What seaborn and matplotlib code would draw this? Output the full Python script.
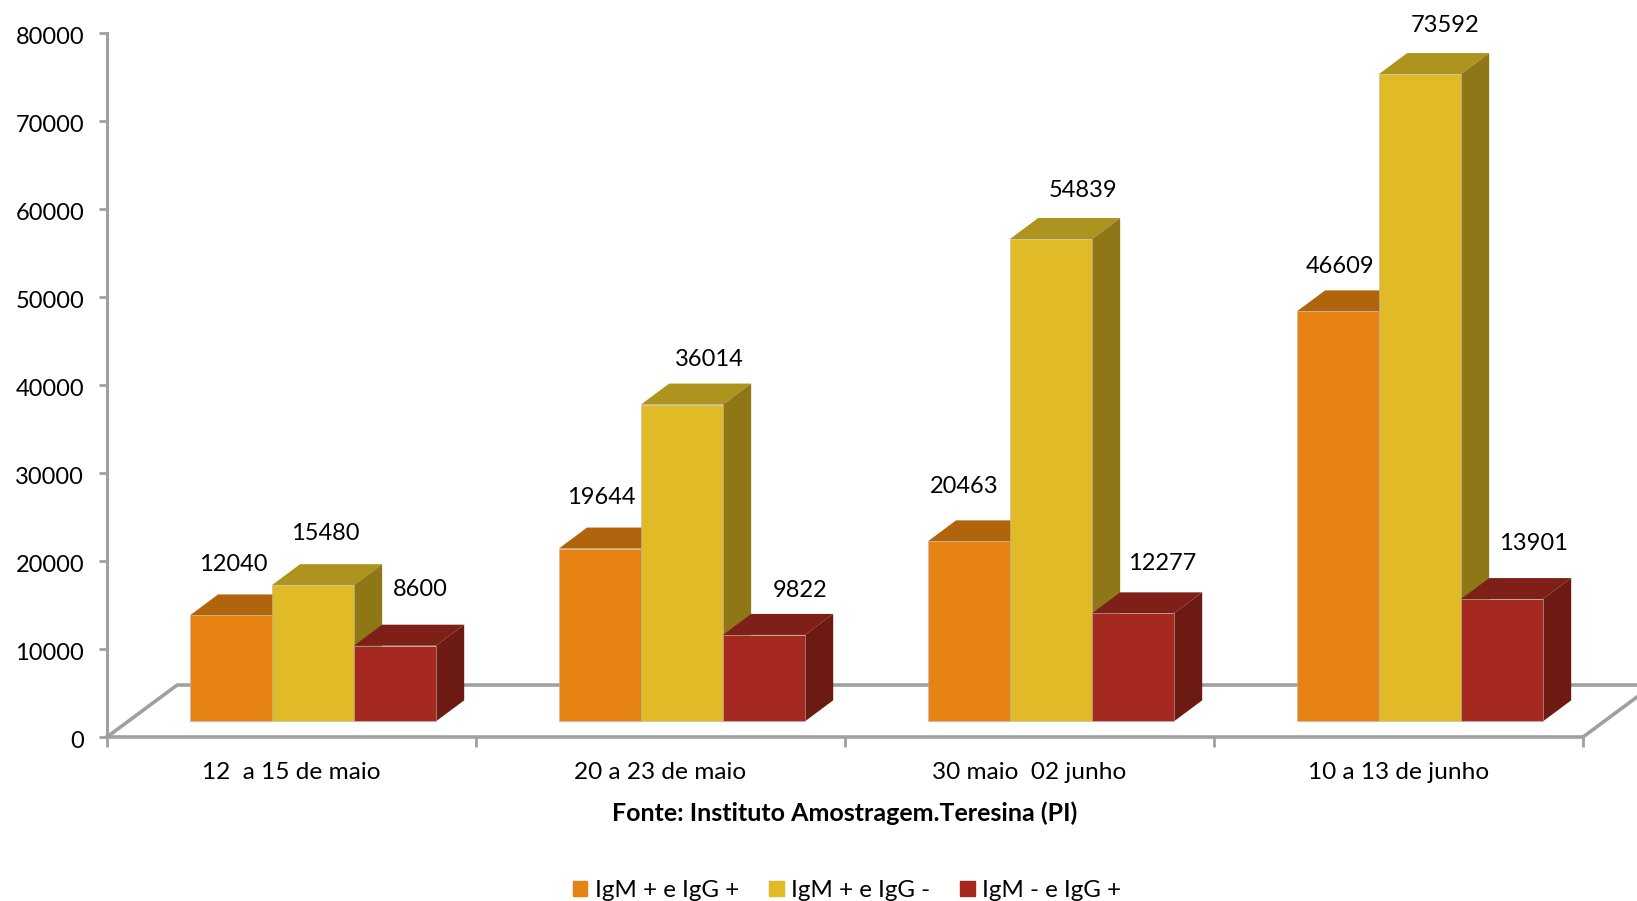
import matplotlib
matplotlib.use('Agg')
import matplotlib.pyplot as plt
import matplotlib.patches as mpatches
from matplotlib.transforms import ScaledTranslation
import pandas as pd
import seaborn as sns

periods = ['12  a 15 de maio', '20 a 23 de maio', '30 maio  02 junho', '10 a 13 de junho']
series_names = ['IgM + e IgG +', 'IgM + e IgG -', 'IgM - e IgG +']
igm_igg_pos = [12040, 19644, 20463, 46609]
igm_only = [15480, 36014, 54839, 73592]
igg_only = [8600, 9822, 12277, 13901]
y_ticks = [0, 10000, 20000, 30000, 40000, 50000, 60000, 70000, 80000]
source = 'Fonte: Instituto Amostragem.Teresina (PI)'

# colours: front, top, side
front = ['#E68312', '#E1BB27', '#A5291E']
top = ['#B0640C', '#AE931F', '#7F2018']
side = ['#9A5A0E', '#8F7616', '#6C1A12']
grey = '#A0A0A0'

# manual label nudges in pixels (from the bar centre / back top edge)
label_dx = [[2, 1, -5, 2], [12, 27, 32, 25], [25, 36, 29, 32]]
label_dy = [[30, 30, 34, 24], [31, 24, 28, 28], [35, 23, 29, 35]]

df = pd.DataFrame({'periodo': periods, series_names[0]: igm_igg_pos,
                   series_names[1]: igm_only, series_names[2]: igg_only})
df = df.melt(id_vars='periodo', var_name='serie', value_name='valor')

sns.set_style('white')
plt.rcParams['font.family'] = ['Lato', 'DejaVu Sans']

W, H = 1637, 901
fig = plt.figure(figsize=(W / 100, H / 100), dpi=100)
ax = fig.add_axes([107 / W, 1 - 737 / H, 1476 / W, 703.6 / H])

base = 1780    # bars float above the front edge of the floor
depth_x = 0.0765
depth_y = 2390
shift = 0.058

sns.barplot(data=df, x='periodo', y='valor', hue='serie', order=periods,
            hue_order=series_names, palette=front, saturation=1, width=0.667,
            bottom=base, edgecolor='#B8B8B8', linewidth=0.4, ax=ax, legend=False)

ax.set_xlim(-0.5, 3.5)
ax.set_ylim(0, 80000)

for i, container in enumerate(ax.containers):
    for j, bar in enumerate(container):
        bar.set_x(bar.get_x() + shift)
        bar.set_zorder(4 + i + 0.5)
        x0 = bar.get_x()
        x1 = x0 + bar.get_width()
        y0 = base
        y1 = base + bar.get_height()
        top_pts = [(x0, y1), (x1, y1), (x1 + depth_x, y1 + depth_y), (x0 + depth_x, y1 + depth_y)]
        side_pts = [(x1, y0), (x1 + depth_x, y0 + depth_y), (x1 + depth_x, y1 + depth_y), (x1, y1)]
        ax.add_patch(mpatches.Polygon(top_pts, facecolor=top[i], edgecolor='none', zorder=4 + i, clip_on=False))
        ax.add_patch(mpatches.Polygon(side_pts, facecolor=side[i], edgecolor='none', zorder=4 + i, clip_on=False))
        ax.annotate(str(int(bar.get_height())), (x0 + bar.get_width() / 2, y1 + depth_y),
                    xytext=(label_dx[i][j], label_dy[i][j]), textcoords='offset pixels',
                    ha='center', va='center', fontsize=17, color='black',
                    annotation_clip=False, zorder=10)

# floor of the 3d box
floor_x = 0.19
floor_y = 5910
ax.plot([-0.5, -0.5 + floor_x, 3.5 + floor_x], [0, floor_y, floor_y], color=grey, lw=2.6, clip_on=False, zorder=2)
ax.plot([3.5, 3.5 + floor_x], [0, floor_y], color=grey, lw=2.6, clip_on=False, zorder=2)

sns.despine(ax=ax, top=True, right=True)
ax.spines['left'].set_color(grey)
ax.spines['bottom'].set_color(grey)
ax.spines['left'].set_linewidth(2.2)
ax.spines['bottom'].set_linewidth(2.6)

ax.set_yticks(y_ticks)
ax.tick_params(axis='y', left=True, length=6, width=2, color=grey, labelsize=17, labelcolor='black', pad=10.5)
ax.set_ylabel('')
# nudge the y labels down a little, Lato sits higher than the original font
for lab in ax.get_yticklabels():
    lab.set_transform(lab.get_transform() + ScaledTranslation(0, -1.5 / 72, fig.dpi_scale_trans))

# ticks sit between the categories, labels in the middle
ax.set_xticks([-0.5, 0.5, 1.5, 2.5, 3.5])
ax.set_xticklabels([])
ax.set_xticks([0, 1, 2, 3], minor=True)
ax.set_xticklabels(periods, minor=True)
ax.tick_params(axis='x', which='major', bottom=True, length=7, width=2, color=grey)
ax.tick_params(axis='x', which='minor', bottom=False, length=0, labelsize=17.6, labelcolor='black', pad=18)
ax.set_xlabel(source, fontsize=18, fontweight='bold', color='black', labelpad=13)

handles = [mpatches.Patch(color=c, label=n) for c, n in zip(front, series_names)]
ax.legend(handles=handles, ncol=3, frameon=False, fontsize=17.4, loc='center',
          bbox_to_anchor=(847 / W, 1 - 890.5 / H), bbox_transform=fig.transFigure,
          labelcolor='black', handlelength=0.6, handleheight=0.6, handletextpad=0.3,
          columnspacing=1.25, borderpad=0, borderaxespad=0)

fig.savefig('out.png', dpi=100)
